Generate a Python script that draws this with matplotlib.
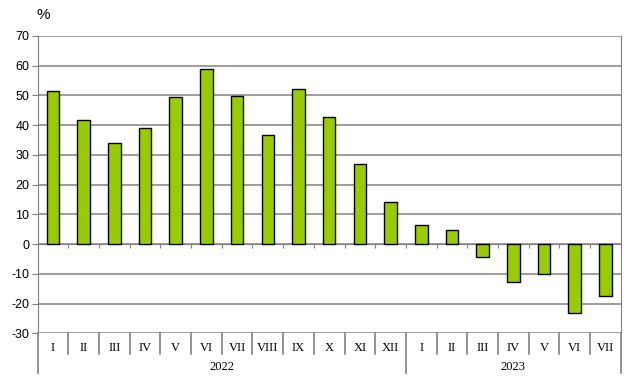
import numpy as np
import matplotlib.pyplot as plt
from matplotlib.transforms import blended_transform_factory

plt.rcParams["axes.unicode_minus"] = False

months = ["I", "II", "III", "IV", "V", "VI", "VII", "VIII", "IX", "X", "XI", "XII",
          "I", "II", "III", "IV", "V", "VI", "VII"]
years = ["2022", "2023"]
year_counts = [12, 7]
values = [51.3, 41.6, 34.0, 39.0, 49.3, 58.7, 49.8, 36.5, 52.0, 42.8, 27.0, 14.0,
          6.3, 4.7, -4.3, -12.8, -9.9, -23.2, -17.5]

fig = plt.figure(figsize=(6.27, 3.81), dpi=100)
ax = fig.add_axes([0.060, 0.125, 0.930, 0.781])

x = np.arange(len(values))
ax.bar(x, values, width=0.41, color="#99cc00", edgecolor="black", linewidth=1.0, zorder=3)

ax.set_xlim(-0.5, len(values) - 0.5)
ax.set_ylim(-30, 70)
ax.set_yticks(np.arange(-30, 71, 10))
ax.yaxis.grid(True, color="#8c8c8c", linewidth=1.2, zorder=0)
ax.tick_params(axis="y", length=4, color="#808080", labelsize=9, pad=2)
for lab in ax.get_yticklabels():
    lab.set_family("Liberation Sans")

# x axis at zero with small ticks between months
ax.spines["bottom"].set_position(("data", 0))
ax.spines["bottom"].set_color("#808080")
ax.spines["top"].set_visible(False)
for s in ["left", "right"]:
    ax.spines[s].set_color("#808080")
ax.set_xticks(np.arange(-0.5, len(values), 1.0))
ax.tick_params(axis="x", direction="out", length=3, color="#808080", labelbottom=False)

trans = blended_transform_factory(ax.transData, ax.transAxes)
for i, m in enumerate(months):
    ax.text(i, -0.048, m, transform=trans, ha="center", va="center",
            fontsize=9, family="Liberation Serif")

# separators under the axis
bounds = np.cumsum([0] + year_counts) - 0.5
for b in np.arange(-0.5, len(values), 1.0):
    low = -0.133 if b in bounds else -0.068
    ax.plot([b, b], [0, low], transform=trans, color="#808080", linewidth=1.2, clip_on=False)

for k, yr in enumerate(years):
    ax.text((bounds[k] + bounds[k + 1]) / 2, -0.112, yr, transform=trans, ha="center",
            va="center", fontsize=9, family="Liberation Serif")

fig.text(0.058, 0.96, "%", fontsize=11, family="Liberation Sans", ha="left", va="center")

fig.savefig("out.png", dpi=100)
